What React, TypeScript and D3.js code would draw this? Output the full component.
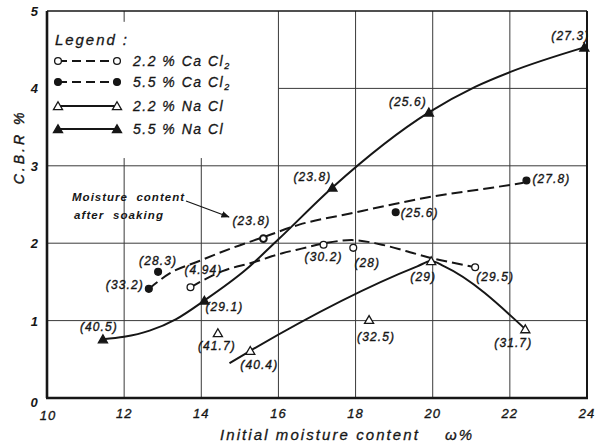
import React from "react";
import * as d3 from "d3";

// ---- data ----
const xTicks = [10, 12, 14, 16, 18, 20, 22, 24];
const yTicks = [0, 1, 2, 3, 4, 5];

// measured points: [moisture %, CBR %]
const naCl55Points: [number, number][] = [[11.45, 0.76], [14.08, 1.26], [17.4, 2.72], [19.9, 3.69], [23.93, 4.53]];
const naCl55Labels = ["(40.5)", "(29.1)", "(23.8)", "(25.6)", "(27.3)"];
const naCl22Points: [number, number][] = [[14.43, 0.84], [15.27, 0.61], [18.35, 1.01], [19.96, 1.77], [22.4, 0.89]];
const naCl22Labels = ["(41.7)", "(40.4)", "(32.5)", "(29)", "(31.7)"];
const caCl55Points: [number, number][] = [[12.64, 1.41], [12.88, 1.63], [19.04, 2.4], [22.43, 2.81]];
const caCl55Labels = ["(33.2)", "(28.3)", "(25.6)", "(27.8)"];
const caCl22Points: [number, number][] = [[13.72, 1.43], [17.17, 1.98], [17.94, 1.94], [21.1, 1.69]];
const caCl22Labels = ["(4.94)", "(30.2)", "(28)", "(29.5)"];
const soakPoint: [number, number] = [15.61, 2.06];
const soakLabel = "(23.8)";

// fitted curves as drawn in the figure
const naCl55Curve: [number, number][] = [[11.45, 0.76], [12.0, 0.79], [12.66, 0.87], [13.35, 1.02], [14.08, 1.26], [15.16, 1.66], [16.0, 2.05], [17.4, 2.72], [19.9, 3.69], [21.1, 4.02], [22.0, 4.21], [23.93, 4.53]];
const naCl22Curve: [number, number][] = [[14.73, 0.45], [15.27, 0.61], [19.6, 1.7], [19.96, 1.77], [20.3, 1.7], [22.4, 0.89]];
const caCl55Curve: [number, number][] = [[12.64, 1.41], [13.18, 1.61], [13.95, 1.77], [14.81, 1.94], [15.68, 2.09], [16.54, 2.24], [17.83, 2.38], [19.04, 2.51], [19.85, 2.59], [21.58, 2.72], [22.35, 2.78]];
const caCl22Curve: [number, number][] = [[13.72, 1.43], [14.55, 1.64], [15.33, 1.75], [16.1, 1.87], [16.6, 1.93], [17.2, 2.0], [17.9, 2.04], [18.6, 1.99], [19.3, 1.9], [19.95, 1.81], [20.5, 1.75], [21.1, 1.69]];

// label offsets (pixels, label centre relative to marker)
const naCl55Off = [[-4, -12], [20, 7], [-20, -10], [-21, -10], [-14, -11]];
const naCl22Off = [[-1, 13], [9, 14], [7, 17], [-8, 16], [-12, 14]];
const caCl55Off = [[-24, -4], [0, -11], [24, 1], [25, -2]];
const caCl22Off = [[13, -17], [0, 12], [14, 15], [20, 10]];
const soakOff = [-12, -18];

const legendItems = [
  { name: "2.2 % Ca Cl", sub: "2", dashed: true, shape: "circle", filled: false },
  { name: "5.5 % Ca Cl", sub: "2", dashed: true, shape: "circle", filled: true },
  { name: "2.2 % Na Cl", sub: "", dashed: false, shape: "triangle", filled: false },
  { name: "5.5 % Na Cl", sub: "", dashed: false, shape: "triangle", filled: true },
];

const INK = "#161616";
const FONT = "'Liberation Sans', Arial, sans-serif";

export default function App() {
  const x = d3.scaleLinear().domain([10, 24]).range([47, 587]);
  const y = d3.scaleLinear().domain([0, 5]).range([398, 11]);
  const smooth = d3.line<[number, number]>().x((d) => x(d[0])).y((d) => y(d[1])).curve(d3.curveMonotoneX);
  const tri = d3.symbol().type(d3.symbolTriangle).size(36)()!;

  const marker = (shape: string, filled: boolean, cx: number, cy: number, key: string) =>
    shape === "circle" ? (
      <circle key={key} cx={cx} cy={cy} r={3.4} fill={filled ? INK : "#fff"} stroke={INK} strokeWidth={1.3} />
    ) : (
      <path key={key} d={tri} transform={`translate(${cx},${cy + 1})`} fill={filled ? INK : "#fff"} stroke={INK} strokeWidth={1.3} />
    );

  const labels = (pts: [number, number][], txt: string[], off: number[][], k: string) =>
    pts.map((p, i) => (
      <text key={k + i} x={x(p[0]) + off[i][0]} y={y(p[1]) + off[i][1] + 4} textAnchor="middle" fontSize={12} fontStyle="italic" letterSpacing={1.1} fill={INK} stroke={INK} strokeWidth={0.35}>
        {txt[i]}
      </text>
    ));

  const vGrid = [12, 14, 16, 18, 20, 22];
  const hGrid = [1, 2, 3, 4];

  return (
    <svg width={595} height={448} style={{ position: "absolute", left: 0, top: 0, background: "#fff" }} fontFamily={FONT}>
      <rect width={595} height={448} fill="#fff" />
      {/* grid */}
      <g stroke="#3a3a3a" strokeWidth={1}>
        {vGrid.map((v) => (
          <line key={"v" + v} x1={x(v)} x2={x(v)} y1={v < 16 ? y(3.1) : y(5)} y2={y(0)} />
        ))}
        <line x1={x(12)} x2={x(12)} y1={y(5)} y2={y(4.86)} />
        {hGrid.map((h) => (
          <line key={"h" + h} x1={h === 4 ? x(16) : x(10)} x2={x(24)} y1={y(h)} y2={y(h)} />
        ))}
      </g>
      {/* frame */}
      <line x1={x(10)} x2={x(24)} y1={y(5)} y2={y(5)} stroke={INK} strokeWidth={1.6} />
      <line x1={x(24)} x2={x(24)} y1={y(5)} y2={y(0)} stroke={INK} strokeWidth={2} />
      <line x1={x(10)} x2={x(10)} y1={y(5)} y2={y(0)} stroke={INK} strokeWidth={2.6} />
      <line x1={x(10) - 1} x2={x(24) + 1} y1={y(0)} y2={y(0)} stroke={INK} strokeWidth={2.6} />

      {/* curves */}
      <g fill="none" stroke={INK} strokeWidth={2}>
        <path d={smooth(naCl55Curve)!} />
        <path d={smooth(naCl22Curve)!} />
        <path d={smooth(caCl55Curve)!} strokeDasharray="11,5" />
        <path d={smooth(caCl22Curve)!} strokeDasharray="11,5" />
      </g>

      {/* markers */}
      {naCl55Points.map((p, i) => marker("triangle", true, x(p[0]), y(p[1]), "a" + i))}
      {naCl22Points.map((p, i) => marker("triangle", false, x(p[0]), y(p[1]), "b" + i))}
      {caCl55Points.map((p, i) => marker("circle", true, x(p[0]), y(p[1]), "c" + i))}
      {caCl22Points.map((p, i) => marker("circle", false, x(p[0]), y(p[1]), "d" + i))}
      <circle cx={x(soakPoint[0])} cy={y(soakPoint[1])} r={3.4} fill="#fff" stroke={INK} strokeWidth={2} />

      {/* point labels */}
      {labels(naCl55Points, naCl55Labels, naCl55Off, "la")}
      {labels(naCl22Points, naCl22Labels, naCl22Off, "lb")}
      {labels(caCl55Points, caCl55Labels, caCl55Off, "lc")}
      {labels(caCl22Points, caCl22Labels, caCl22Off, "ld")}
      <text x={x(soakPoint[0]) + soakOff[0]} y={y(soakPoint[1]) + soakOff[1] + 4} textAnchor="middle" fontSize={12} fontStyle="italic" letterSpacing={1.1} fill={INK} stroke={INK} strokeWidth={0.35}>
        {soakLabel}
      </text>

      {/* annotation */}
      <text x={72} y={201} fontSize={11.5} fontStyle="italic" fontWeight="bold" fill={INK} textLength={112} lengthAdjust="spacing" style={{ whiteSpace: "pre" }}>
        {"Moisture  content"}
      </text>
      <text x={74} y={219} fontSize={11.5} fontStyle="italic" fontWeight="bold" fill={INK} textLength={89} lengthAdjust="spacing" style={{ whiteSpace: "pre" }}>
        {"after  soaking"}
      </text>
      <defs>
        <marker id="arr" viewBox="0 0 10 10" refX={9} refY={5} markerWidth={7} markerHeight={7} orient="auto">
          <path d="M0,1 L10,5 L0,9 Z" fill={INK} />
        </marker>
      </defs>
      <line x1={186} y1={201} x2={229} y2={217} stroke={INK} strokeWidth={1.2} markerEnd="url(#arr)" />

      {/* legend */}
      <text x={55} y={45} fontSize={15} fontStyle="italic" fill={INK} stroke={INK} strokeWidth={0.3} textLength={72} lengthAdjust="spacing">
        Legend :
      </text>
      {legendItems.map((it, i) => {
        const ly = [61, 82, 106, 129][i];
        return (
          <g key={"lg" + i}>
            <line x1={58} x2={117} y1={ly} y2={ly} stroke={INK} strokeWidth={2} strokeDasharray={it.dashed ? "9,5" : undefined} />
            {marker(it.shape, it.filled, 58, ly, "lm1" + i)}
            {marker(it.shape, it.filled, 117, ly, "lm2" + i)}
            <text x={133} y={ly + 5} fontSize={14} fontStyle="italic" letterSpacing={1.5} fill={INK} stroke={INK} strokeWidth={0.3}>
              {it.name}
              {it.sub && (
                <tspan fontSize={9} dy={3}>
                  {it.sub}
                </tspan>
              )}
            </text>
          </g>
        );
      })}

      {/* tick labels */}
      {yTicks.filter((t) => t > 0).map((t) => (
        <text key={"yt" + t} x={38} y={y(t) + 5} textAnchor="end" fontSize={13} fontStyle="italic" fontWeight="bold" fill={INK}>
          {t}
        </text>
      ))}
      <text x={34} y={407} textAnchor="middle" fontSize={13} fontStyle="italic" fontWeight="bold" fill={INK}>0</text>
      {xTicks.map((t) => (
        <text key={"xt" + t} x={x(t) + (t === 10 ? 1 : 0)} y={t === 10 ? 420 : 418} textAnchor="middle" fontSize={13} fontStyle="italic" fill={INK} stroke={INK} strokeWidth={0.35} letterSpacing={1}>
          {t}
        </text>
      ))}

      {/* axis titles */}
      <text x={220} y={440} fontSize={15} fontStyle="italic" fill={INK} stroke={INK} strokeWidth={0.3} textLength={252} lengthAdjust="spacing" style={{ whiteSpace: "pre" }}>
        {"Initial moisture content    ω%"}
      </text>
      <text transform="translate(24,147) rotate(-90)" textAnchor="middle" fontSize={14} fontStyle="italic" fill={INK} stroke={INK} strokeWidth={0.4} letterSpacing={3}>
        C.B.R %
      </text>
    </svg>
  );
}
